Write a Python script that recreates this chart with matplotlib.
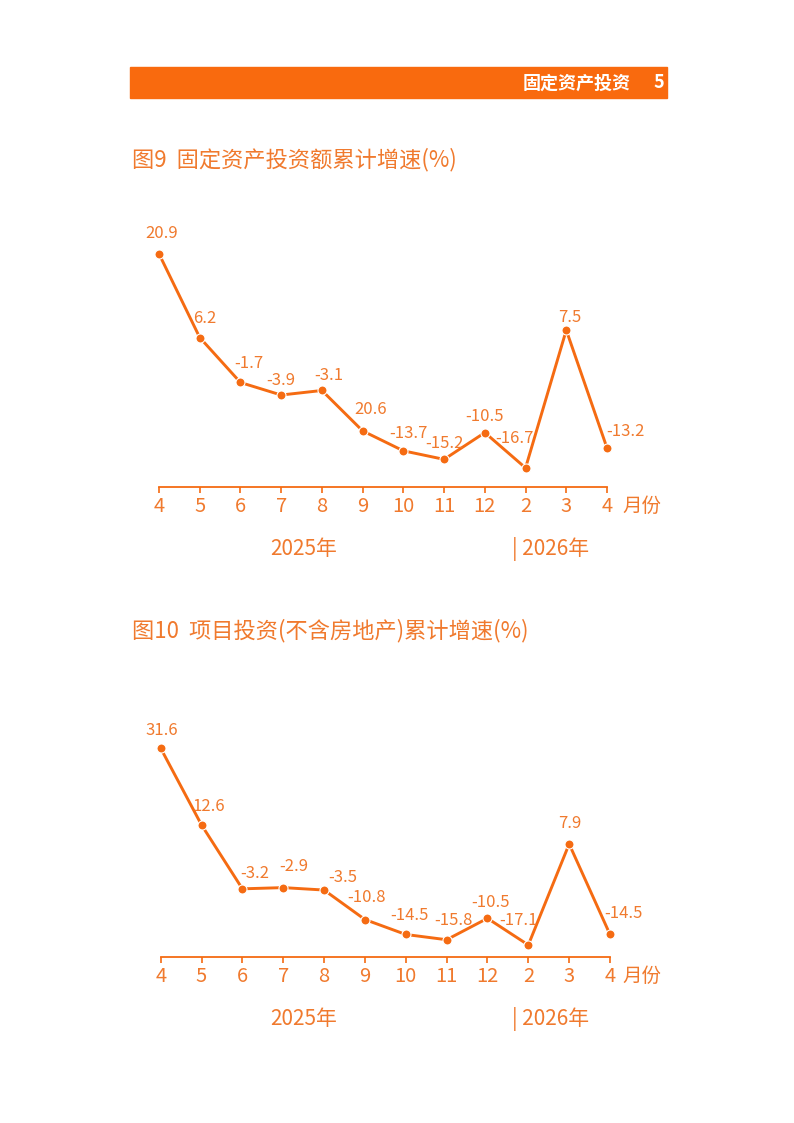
import matplotlib
matplotlib.use('Agg')
import matplotlib.pyplot as plt
import matplotlib.patches as patches

plt.rcParams['font.family'] = ['Noto Sans CJK SC', 'DejaVu Sans']

months = ['4', '5', '6', '7', '8', '9', '10', '11', '12', '2', '3', '4']

# 图9 固定资产投资额累计增速
fai_values = [20.9, 6.2, -1.7, -3.9, -3.1, -10.2, -13.7, -15.2, -10.5, -16.7, 7.5, -13.2]
fai_labels = ['20.9', '6.2', '-1.7', '-3.9', '-3.1', '20.6', '-13.7', '-15.2', '-10.5', '-16.7', '7.5', '-13.2']

# 图10 项目投资(不含房地产)累计增速
proj_values = [31.6, 12.6, -3.2, -2.9, -3.5, -10.8, -14.5, -15.8, -10.5, -17.1, 7.9, -14.5]
proj_labels = ['31.6', '12.6', '-3.2', '-2.9', '-3.5', '-10.8', '-14.5', '-15.8', '-10.5', '-17.1', '7.9', '-14.5']

# label offsets in pixels (dx, dy up)
fai_offsets = [(3, 20), (5, 19), (8, 19), (0, 15), (7, 15), (8, 21),
               (5, 17), (0, 16), (0, 16), (-11, 29), (3, 13), (18, 16)]
proj_offsets = [(1, 18), (7, 18), (12, 15), (11, 21), (19, 13), (2, 22),
                (4, 19), (7, 19), (3, 16), (-10, 24), (1, 20), (13, 21)]

W, H = 794, 1123
ORANGE = '#F56B12'
TEXT = '#F07A2E'

fig = plt.figure(figsize=(W / 100, H / 100), dpi=100)


def px(x, y):
    return x / W, 1 - y / H


# header bar
fig.patches.append(patches.Rectangle(px(130, 98), (667 - 130) / W, 31 / H,
                                     transform=fig.transFigure, color='#F96A0E', zorder=0))
fig.text(*px(631, 83), '固定资产投资', color='white', fontsize=13, fontweight='bold',
         ha='right', va='center')
fig.text(*px(664, 83), '5', color='white', fontsize=13, fontweight='bold',
         ha='right', va='center')


def draw_chart(left, right, top, bottom, ylim, values, labels, offsets, title, title_y):
    x0, y0 = px(left, bottom)
    ax = fig.add_axes([x0, y0, (right - left) / W, (bottom - top) / H])
    xs = list(range(len(values)))
    ax.plot(xs, values, color=ORANGE, lw=2.1, marker='o', markersize=6.5,
            markeredgecolor='white', markeredgewidth=0.8, clip_on=False)
    for x, v, t, (dx, dy) in zip(xs, values, labels, offsets):
        ax.annotate(t, (x, v), xytext=(dx * 0.72, dy * 0.72), textcoords='offset points',
                    ha='center', va='center', fontsize=12, color=TEXT)
    ax.set_xlim(0, len(values) - 1)
    ax.set_ylim(*ylim)
    ax.set_facecolor('none')
    for s in ['top', 'right', 'left']:
        ax.spines[s].set_visible(False)
    ax.spines['bottom'].set_color(ORANGE)
    ax.spines['bottom'].set_linewidth(1.3)
    ax.set_yticks([])
    ax.set_xticks(xs)
    ax.set_xticklabels(months)
    ax.tick_params(axis='x', direction='out', length=4.5, width=1.2, color=ORANGE,
                   labelcolor=TEXT, labelsize=14.5, pad=2.5)
    fig.text(*px(622, bottom + 20), '月份', color=TEXT, fontsize=14, ha='left', va='center')
    fig.text(*px(304, bottom + 62), '2025年', color=TEXT, fontsize=15, ha='center', va='center')
    fig.text(*px(512, bottom + 62), '| 2026年', color=TEXT, fontsize=15, ha='left', va='center')
    fig.text(*px(132, title_y), title, color=TEXT, fontsize=16, ha='left', va='center')
    return ax


draw_chart(159, 607, 202, 486.7, (-20, 30), fai_values, fai_labels, fai_offsets,
           '图9  固定资产投资额累计增速(%)', 160)
draw_chart(160.7, 610, 714.3, 956.7, (-20, 40), proj_values, proj_labels, proj_offsets,
           '图10  项目投资(不含房地产)累计增速(%)', 631)

fig.savefig('out.png', dpi=100, facecolor='white')
